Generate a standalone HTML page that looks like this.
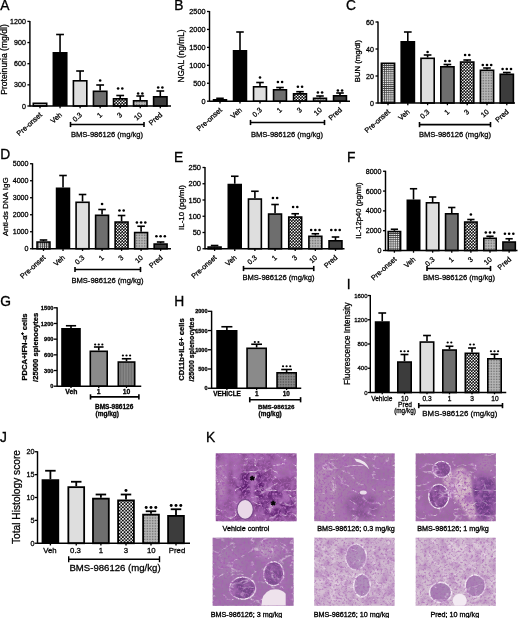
<!DOCTYPE html>
<html><head><meta charset="utf-8"><style>
html,body{margin:0;padding:0;background:#fff;width:520px;height:618px;overflow:hidden}
svg{display:block}
text{font-family:"Liberation Sans", sans-serif;stroke:#000;stroke-width:0.28px}
svg{filter:blur(0.25px)}
</style></head><body>
<svg width="520" height="618" viewBox="0 0 520 618">
<defs>
<pattern id="pdots" width="3" height="3" patternUnits="userSpaceOnUse">
  <rect width="3" height="3" fill="#c4c4c4"/><rect x="0.5" y="0.5" width="1.4" height="1.4" fill="#555"/>
</pattern>
<pattern id="pgrid" width="2.1" height="2.1" patternUnits="userSpaceOnUse">
  <rect width="2.1" height="2.1" fill="#3a3a3a"/><rect x="0.75" y="0.75" width="1.35" height="1.35" fill="#f2f2f2"/>
</pattern>
<pattern id="pcheck" width="3.0" height="3.0" patternUnits="userSpaceOnUse">
  <rect width="3.0" height="3.0" fill="#111"/><circle cx="0.75" cy="0.75" r="0.8" fill="#fff"/><circle cx="2.25" cy="2.25" r="0.8" fill="#fff"/>
</pattern>
<pattern id="pcheckJ" width="3.3" height="3.3" patternUnits="userSpaceOnUse">
  <rect width="3.3" height="3.3" fill="#111"/><circle cx="0.82" cy="0.82" r="0.9" fill="#fff"/><circle cx="2.47" cy="2.47" r="0.9" fill="#fff"/>
</pattern>
<pattern id="pfine" width="1.6" height="1.6" patternUnits="userSpaceOnUse">
  <rect width="1.6" height="1.6" fill="#b8b8b8"/><rect width="0.8" height="0.8" fill="#6a6a6a"/>
</pattern>
<pattern id="pfine2" width="1.6" height="1.6" patternUnits="userSpaceOnUse">
  <rect width="1.6" height="1.6" fill="#8a8a8a"/><rect width="0.8" height="0.8" fill="#4a4a4a"/>
</pattern>
<pattern id="pvline" width="1.6" height="3" patternUnits="userSpaceOnUse">
  <rect width="1.6" height="3" fill="#8a8a8a"/><rect width="0.6" height="3" fill="#666"/>
</pattern>
<filter id="hblur" x="-20%" y="-20%" width="140%" height="140%"><feGaussianBlur stdDeviation="2.5"/></filter>
<filter id="hblur3" x="-20%" y="-20%" width="140%" height="140%"><feGaussianBlur stdDeviation="1.2"/></filter>
<filter id="hblur2" x="-20%" y="-20%" width="140%" height="140%"><feGaussianBlur stdDeviation="0.6"/></filter>
<filter id="texm1" x="0" y="0" width="1" height="1"><feTurbulence type="fractalNoise" baseFrequency="0.12" numOctaves="2" seed="6"/>
<feColorMatrix type="matrix" values="0 0 0 0 0.40  0 0 0 0 0.16  0 0 0 0 0.46  2.97 0 0 0 -1.16"/></filter>
<filter id="texv1" x="0" y="0" width="1" height="1"><feTurbulence type="turbulence" baseFrequency="0.05 0.08" numOctaves="3" seed="16"/>
<feColorMatrix type="matrix" values="0 0 0 0 0.94  0 0 0 0 0.82  0 0 0 0 0.93  -4.80 0 0 0 0.78"/><feGaussianBlur stdDeviation="0.6"/></filter>
<filter id="texd1" x="0" y="0" width="1" height="1"><feTurbulence type="fractalNoise" baseFrequency="0.45" numOctaves="2" seed="7"/>
<feColorMatrix type="matrix" values="0 0 0 0 0.38  0 0 0 0 0.12  0 0 0 0 0.44  4.86 0 0 0 -2.36"/><feGaussianBlur stdDeviation="0.4"/></filter>
<filter id="texm2" x="0" y="0" width="1" height="1"><feTurbulence type="fractalNoise" baseFrequency="0.12" numOctaves="2" seed="11"/>
<feColorMatrix type="matrix" values="0 0 0 0 0.40  0 0 0 0 0.16  0 0 0 0 0.46  2.09 0 0 0 -0.82"/></filter>
<filter id="texv2" x="0" y="0" width="1" height="1"><feTurbulence type="turbulence" baseFrequency="0.05 0.08" numOctaves="3" seed="29"/>
<feColorMatrix type="matrix" values="0 0 0 0 0.94  0 0 0 0 0.82  0 0 0 0 0.93  -3.80 0 0 0 0.62"/><feGaussianBlur stdDeviation="0.6"/></filter>
<filter id="texd2" x="0" y="0" width="1" height="1"><feTurbulence type="fractalNoise" baseFrequency="0.45" numOctaves="2" seed="14"/>
<feColorMatrix type="matrix" values="0 0 0 0 0.38  0 0 0 0 0.12  0 0 0 0 0.44  3.42 0 0 0 -1.66"/><feGaussianBlur stdDeviation="0.4"/></filter>
<filter id="texm3" x="0" y="0" width="1" height="1"><feTurbulence type="fractalNoise" baseFrequency="0.12" numOctaves="2" seed="16"/>
<feColorMatrix type="matrix" values="0 0 0 0 0.40  0 0 0 0 0.16  0 0 0 0 0.46  2.09 0 0 0 -0.82"/></filter>
<filter id="texv3" x="0" y="0" width="1" height="1"><feTurbulence type="turbulence" baseFrequency="0.05 0.08" numOctaves="3" seed="42"/>
<feColorMatrix type="matrix" values="0 0 0 0 0.94  0 0 0 0 0.82  0 0 0 0 0.93  -3.80 0 0 0 0.62"/><feGaussianBlur stdDeviation="0.6"/></filter>
<filter id="texd3" x="0" y="0" width="1" height="1"><feTurbulence type="fractalNoise" baseFrequency="0.45" numOctaves="2" seed="21"/>
<feColorMatrix type="matrix" values="0 0 0 0 0.38  0 0 0 0 0.12  0 0 0 0 0.44  3.42 0 0 0 -1.66"/><feGaussianBlur stdDeviation="0.4"/></filter>
<filter id="texm4" x="0" y="0" width="1" height="1"><feTurbulence type="fractalNoise" baseFrequency="0.12" numOctaves="2" seed="21"/>
<feColorMatrix type="matrix" values="0 0 0 0 0.40  0 0 0 0 0.16  0 0 0 0 0.46  2.09 0 0 0 -0.82"/></filter>
<filter id="texv4" x="0" y="0" width="1" height="1"><feTurbulence type="turbulence" baseFrequency="0.05 0.08" numOctaves="3" seed="55"/>
<feColorMatrix type="matrix" values="0 0 0 0 0.94  0 0 0 0 0.82  0 0 0 0 0.93  -3.80 0 0 0 0.62"/><feGaussianBlur stdDeviation="0.6"/></filter>
<filter id="texd4" x="0" y="0" width="1" height="1"><feTurbulence type="fractalNoise" baseFrequency="0.45" numOctaves="2" seed="28"/>
<feColorMatrix type="matrix" values="0 0 0 0 0.38  0 0 0 0 0.12  0 0 0 0 0.44  3.42 0 0 0 -1.66"/><feGaussianBlur stdDeviation="0.4"/></filter>
<filter id="texm5" x="0" y="0" width="1" height="1"><feTurbulence type="fractalNoise" baseFrequency="0.12" numOctaves="2" seed="26"/>
<feColorMatrix type="matrix" values="0 0 0 0 0.40  0 0 0 0 0.16  0 0 0 0 0.46  1.32 0 0 0 -0.52"/></filter>
<filter id="texv5" x="0" y="0" width="1" height="1"><feTurbulence type="turbulence" baseFrequency="0.05 0.08" numOctaves="3" seed="68"/>
<feColorMatrix type="matrix" values="0 0 0 0 0.94  0 0 0 0 0.82  0 0 0 0 0.93  -3.20 0 0 0 0.52"/><feGaussianBlur stdDeviation="0.6"/></filter>
<filter id="texd5" x="0" y="0" width="1" height="1"><feTurbulence type="fractalNoise" baseFrequency="0.45" numOctaves="2" seed="35"/>
<feColorMatrix type="matrix" values="0 0 0 0 0.38  0 0 0 0 0.12  0 0 0 0 0.44  2.16 0 0 0 -1.05"/><feGaussianBlur stdDeviation="0.4"/></filter>
<filter id="texm6" x="0" y="0" width="1" height="1"><feTurbulence type="fractalNoise" baseFrequency="0.12" numOctaves="2" seed="31"/>
<feColorMatrix type="matrix" values="0 0 0 0 0.40  0 0 0 0 0.16  0 0 0 0 0.46  1.32 0 0 0 -0.52"/></filter>
<filter id="texv6" x="0" y="0" width="1" height="1"><feTurbulence type="turbulence" baseFrequency="0.05 0.08" numOctaves="3" seed="81"/>
<feColorMatrix type="matrix" values="0 0 0 0 0.94  0 0 0 0 0.82  0 0 0 0 0.93  -3.20 0 0 0 0.52"/><feGaussianBlur stdDeviation="0.6"/></filter>
<filter id="texd6" x="0" y="0" width="1" height="1"><feTurbulence type="fractalNoise" baseFrequency="0.45" numOctaves="2" seed="42"/>
<feColorMatrix type="matrix" values="0 0 0 0 0.38  0 0 0 0 0.12  0 0 0 0 0.44  2.16 0 0 0 -1.05"/><feGaussianBlur stdDeviation="0.4"/></filter>
</defs>
<rect width="520" height="618" fill="#fff"/>
<line x1="29.90" y1="20.90" x2="29.90" y2="106.60" stroke="#000" stroke-width="1.45"/>
<line x1="27.40" y1="106.00" x2="29.90" y2="106.00" stroke="#000" stroke-width="1.305"/>
<text x="25.90" y="108.56" font-size="7.1" text-anchor="end" fill="#000">0</text>
<line x1="27.40" y1="84.85" x2="29.90" y2="84.85" stroke="#000" stroke-width="1.305"/>
<text x="25.90" y="87.41" font-size="7.1" text-anchor="end" fill="#000">300</text>
<line x1="27.40" y1="63.70" x2="29.90" y2="63.70" stroke="#000" stroke-width="1.305"/>
<text x="25.90" y="66.26" font-size="7.1" text-anchor="end" fill="#000">600</text>
<line x1="27.40" y1="42.55" x2="29.90" y2="42.55" stroke="#000" stroke-width="1.305"/>
<text x="25.90" y="45.11" font-size="7.1" text-anchor="end" fill="#000">900</text>
<line x1="27.40" y1="21.40" x2="29.90" y2="21.40" stroke="#000" stroke-width="1.305"/>
<text x="25.90" y="23.96" font-size="7.1" text-anchor="end" fill="#000">1200</text>
<rect x="33.30" y="103.30" width="13.40" height="2.70" fill="url(#pdots)" stroke="#000" stroke-width="1.6"/>
<line x1="60.05" y1="52.00" x2="60.05" y2="34.50" stroke="#000" stroke-width="1.6"/>
<line x1="56.15" y1="34.50" x2="63.95" y2="34.50" stroke="#000" stroke-width="1.6"/>
<rect x="52.55" y="52.00" width="15.00" height="54.00" fill="#000"/>
<line x1="80.10" y1="80.00" x2="80.10" y2="71.00" stroke="#000" stroke-width="1.6"/>
<line x1="76.20" y1="71.00" x2="84.00" y2="71.00" stroke="#000" stroke-width="1.6"/>
<rect x="73.40" y="80.80" width="13.40" height="25.20" fill="#dedede" stroke="#000" stroke-width="1.6"/>
<line x1="100.15" y1="90.50" x2="100.15" y2="85.00" stroke="#000" stroke-width="1.6"/>
<line x1="96.25" y1="85.00" x2="104.05" y2="85.00" stroke="#000" stroke-width="1.6"/>
<rect x="93.45" y="91.30" width="13.40" height="14.70" fill="#6e6e6e" stroke="#000" stroke-width="1.6"/>
<circle cx="100.15" cy="80.50" r="1.30" fill="#000"/>
<line x1="120.20" y1="98.00" x2="120.20" y2="95.50" stroke="#000" stroke-width="1.6"/>
<line x1="116.30" y1="95.50" x2="124.10" y2="95.50" stroke="#000" stroke-width="1.6"/>
<rect x="113.50" y="98.80" width="13.40" height="7.20" fill="url(#pcheck)" stroke="#000" stroke-width="1.6"/>
<circle cx="118.10" cy="88.50" r="1.30" fill="#000"/>
<circle cx="122.30" cy="88.50" r="1.30" fill="#000"/>
<line x1="140.25" y1="100.00" x2="140.25" y2="96.00" stroke="#000" stroke-width="1.6"/>
<line x1="136.35" y1="96.00" x2="144.15" y2="96.00" stroke="#000" stroke-width="1.6"/>
<rect x="133.55" y="100.80" width="13.40" height="5.20" fill="url(#pfine)" stroke="#000" stroke-width="1.6"/>
<circle cx="138.15" cy="93.50" r="1.30" fill="#000"/>
<circle cx="142.35" cy="93.50" r="1.30" fill="#000"/>
<line x1="160.30" y1="96.00" x2="160.30" y2="91.00" stroke="#000" stroke-width="1.6"/>
<line x1="156.40" y1="91.00" x2="164.20" y2="91.00" stroke="#000" stroke-width="1.6"/>
<rect x="153.60" y="96.80" width="13.40" height="9.20" fill="#3c3c3c" stroke="#000" stroke-width="1.6"/>
<circle cx="158.20" cy="87.50" r="1.30" fill="#000"/>
<circle cx="162.40" cy="87.50" r="1.30" fill="#000"/>
<line x1="29.90" y1="106.00" x2="171.00" y2="106.00" stroke="#000" stroke-width="1.45"/>
<line x1="40.00" y1="106.00" x2="40.00" y2="108.20" stroke="#000" stroke-width="1.305"/>
<line x1="60.05" y1="106.00" x2="60.05" y2="108.20" stroke="#000" stroke-width="1.305"/>
<line x1="80.10" y1="106.00" x2="80.10" y2="108.20" stroke="#000" stroke-width="1.305"/>
<line x1="100.15" y1="106.00" x2="100.15" y2="108.20" stroke="#000" stroke-width="1.305"/>
<line x1="120.20" y1="106.00" x2="120.20" y2="108.20" stroke="#000" stroke-width="1.305"/>
<line x1="140.25" y1="106.00" x2="140.25" y2="108.20" stroke="#000" stroke-width="1.305"/>
<line x1="160.30" y1="106.00" x2="160.30" y2="108.20" stroke="#000" stroke-width="1.305"/>
<text x="42.50" y="115.50" font-size="7.2" text-anchor="end" transform="rotate(-42 42.50 115.50)" fill="#000">Pre-onset</text>
<text x="62.55" y="115.50" font-size="7.2" text-anchor="end" transform="rotate(-42 62.55 115.50)" fill="#000">Veh</text>
<text x="82.60" y="115.50" font-size="7.2" text-anchor="end" transform="rotate(-42 82.60 115.50)" fill="#000">0.3</text>
<text x="102.65" y="115.50" font-size="7.2" text-anchor="end" transform="rotate(-42 102.65 115.50)" fill="#000">1</text>
<text x="122.70" y="115.50" font-size="7.2" text-anchor="end" transform="rotate(-42 122.70 115.50)" fill="#000">3</text>
<text x="142.75" y="115.50" font-size="7.2" text-anchor="end" transform="rotate(-42 142.75 115.50)" fill="#000">10</text>
<text x="162.80" y="115.50" font-size="7.2" text-anchor="end" transform="rotate(-42 162.80 115.50)" fill="#000">Pred</text>
<line x1="70.50" y1="124.50" x2="144.00" y2="124.50" stroke="#000" stroke-width="1.6"/>
<line x1="70.50" y1="121.90" x2="70.50" y2="127.10" stroke="#000" stroke-width="1.6"/>
<line x1="144.00" y1="121.90" x2="144.00" y2="127.10" stroke="#000" stroke-width="1.6"/>
<text x="107.00" y="137.20" font-size="7.6" text-anchor="middle" fill="#000">BMS-986126 (mg/kg)</text>
<text x="6.50" y="59.50" font-size="8.6" text-anchor="middle" transform="rotate(-90 6.50 59.50)" fill="#000">Proteinuria (mg/dl)</text>
<line x1="209.50" y1="11.00" x2="209.50" y2="101.80" stroke="#000" stroke-width="1.45"/>
<line x1="207.00" y1="101.20" x2="209.50" y2="101.20" stroke="#000" stroke-width="1.305"/>
<text x="205.50" y="103.83" font-size="7.3" text-anchor="end" fill="#000">0</text>
<line x1="207.00" y1="83.26" x2="209.50" y2="83.26" stroke="#000" stroke-width="1.305"/>
<text x="205.50" y="85.89" font-size="7.3" text-anchor="end" fill="#000">500</text>
<line x1="207.00" y1="65.32" x2="209.50" y2="65.32" stroke="#000" stroke-width="1.305"/>
<text x="205.50" y="67.95" font-size="7.3" text-anchor="end" fill="#000">1000</text>
<line x1="207.00" y1="47.38" x2="209.50" y2="47.38" stroke="#000" stroke-width="1.305"/>
<text x="205.50" y="50.01" font-size="7.3" text-anchor="end" fill="#000">1500</text>
<line x1="207.00" y1="29.44" x2="209.50" y2="29.44" stroke="#000" stroke-width="1.305"/>
<text x="205.50" y="32.07" font-size="7.3" text-anchor="end" fill="#000">2000</text>
<line x1="207.00" y1="11.50" x2="209.50" y2="11.50" stroke="#000" stroke-width="1.305"/>
<text x="205.50" y="14.13" font-size="7.3" text-anchor="end" fill="#000">2500</text>
<line x1="220.00" y1="99.00" x2="220.00" y2="98.30" stroke="#000" stroke-width="1.6"/>
<line x1="216.23" y1="98.30" x2="223.77" y2="98.30" stroke="#000" stroke-width="1.6"/>
<rect x="213.55" y="99.80" width="12.90" height="1.40" fill="url(#pdots)" stroke="#000" stroke-width="1.6"/>
<line x1="240.00" y1="50.00" x2="240.00" y2="32.00" stroke="#000" stroke-width="1.6"/>
<line x1="236.23" y1="32.00" x2="243.77" y2="32.00" stroke="#000" stroke-width="1.6"/>
<rect x="232.75" y="50.00" width="14.50" height="51.20" fill="#000"/>
<line x1="260.00" y1="86.00" x2="260.00" y2="82.50" stroke="#000" stroke-width="1.6"/>
<line x1="256.23" y1="82.50" x2="263.77" y2="82.50" stroke="#000" stroke-width="1.6"/>
<rect x="253.55" y="86.80" width="12.90" height="14.40" fill="#dedede" stroke="#000" stroke-width="1.6"/>
<circle cx="260.00" cy="77.50" r="1.30" fill="#000"/>
<line x1="280.00" y1="89.00" x2="280.00" y2="87.50" stroke="#000" stroke-width="1.6"/>
<line x1="276.23" y1="87.50" x2="283.77" y2="87.50" stroke="#000" stroke-width="1.6"/>
<rect x="273.55" y="89.80" width="12.90" height="11.40" fill="#6e6e6e" stroke="#000" stroke-width="1.6"/>
<circle cx="277.90" cy="82.00" r="1.30" fill="#000"/>
<circle cx="282.10" cy="82.00" r="1.30" fill="#000"/>
<line x1="300.00" y1="93.00" x2="300.00" y2="91.70" stroke="#000" stroke-width="1.6"/>
<line x1="296.23" y1="91.70" x2="303.77" y2="91.70" stroke="#000" stroke-width="1.6"/>
<rect x="293.55" y="93.80" width="12.90" height="7.40" fill="url(#pcheck)" stroke="#000" stroke-width="1.6"/>
<circle cx="297.90" cy="86.70" r="1.30" fill="#000"/>
<circle cx="302.10" cy="86.70" r="1.30" fill="#000"/>
<line x1="320.00" y1="97.50" x2="320.00" y2="96.00" stroke="#000" stroke-width="1.6"/>
<line x1="316.23" y1="96.00" x2="323.77" y2="96.00" stroke="#000" stroke-width="1.6"/>
<rect x="313.55" y="98.30" width="12.90" height="2.90" fill="url(#pfine)" stroke="#000" stroke-width="1.6"/>
<circle cx="317.90" cy="92.50" r="1.30" fill="#000"/>
<circle cx="322.10" cy="92.50" r="1.30" fill="#000"/>
<line x1="340.00" y1="95.00" x2="340.00" y2="93.00" stroke="#000" stroke-width="1.6"/>
<line x1="336.23" y1="93.00" x2="343.77" y2="93.00" stroke="#000" stroke-width="1.6"/>
<rect x="333.55" y="95.80" width="12.90" height="5.40" fill="#3c3c3c" stroke="#000" stroke-width="1.6"/>
<circle cx="337.90" cy="90.50" r="1.30" fill="#000"/>
<circle cx="342.10" cy="90.50" r="1.30" fill="#000"/>
<line x1="209.50" y1="101.20" x2="350.00" y2="101.20" stroke="#000" stroke-width="1.45"/>
<line x1="220.00" y1="101.20" x2="220.00" y2="103.40" stroke="#000" stroke-width="1.305"/>
<line x1="240.00" y1="101.20" x2="240.00" y2="103.40" stroke="#000" stroke-width="1.305"/>
<line x1="260.00" y1="101.20" x2="260.00" y2="103.40" stroke="#000" stroke-width="1.305"/>
<line x1="280.00" y1="101.20" x2="280.00" y2="103.40" stroke="#000" stroke-width="1.305"/>
<line x1="300.00" y1="101.20" x2="300.00" y2="103.40" stroke="#000" stroke-width="1.305"/>
<line x1="320.00" y1="101.20" x2="320.00" y2="103.40" stroke="#000" stroke-width="1.305"/>
<line x1="340.00" y1="101.20" x2="340.00" y2="103.40" stroke="#000" stroke-width="1.305"/>
<text x="222.50" y="110.70" font-size="7.2" text-anchor="end" transform="rotate(-42 222.50 110.70)" fill="#000">Pre-onset</text>
<text x="242.50" y="110.70" font-size="7.2" text-anchor="end" transform="rotate(-42 242.50 110.70)" fill="#000">Veh</text>
<text x="262.50" y="110.70" font-size="7.2" text-anchor="end" transform="rotate(-42 262.50 110.70)" fill="#000">0.3</text>
<text x="282.50" y="110.70" font-size="7.2" text-anchor="end" transform="rotate(-42 282.50 110.70)" fill="#000">1</text>
<text x="302.50" y="110.70" font-size="7.2" text-anchor="end" transform="rotate(-42 302.50 110.70)" fill="#000">3</text>
<text x="322.50" y="110.70" font-size="7.2" text-anchor="end" transform="rotate(-42 322.50 110.70)" fill="#000">10</text>
<text x="342.50" y="110.70" font-size="7.2" text-anchor="end" transform="rotate(-42 342.50 110.70)" fill="#000">Pred</text>
<line x1="250.50" y1="122.50" x2="324.50" y2="122.50" stroke="#000" stroke-width="1.6"/>
<line x1="250.50" y1="119.90" x2="250.50" y2="125.10" stroke="#000" stroke-width="1.6"/>
<line x1="324.50" y1="119.90" x2="324.50" y2="125.10" stroke="#000" stroke-width="1.6"/>
<text x="287.00" y="137.00" font-size="7.6" text-anchor="middle" fill="#000">BMS-986126 (mg/kg)</text>
<text x="184.00" y="56.00" font-size="8.3" text-anchor="middle" transform="rotate(-90 184.00 56.00)" fill="#000">NGAL (ng/mL)</text>
<line x1="378.00" y1="21.50" x2="378.00" y2="103.60" stroke="#000" stroke-width="1.45"/>
<line x1="375.50" y1="103.00" x2="378.00" y2="103.00" stroke="#000" stroke-width="1.305"/>
<text x="374.00" y="105.56" font-size="7.1" text-anchor="end" fill="#000">0</text>
<line x1="375.50" y1="76.00" x2="378.00" y2="76.00" stroke="#000" stroke-width="1.305"/>
<text x="374.00" y="78.56" font-size="7.1" text-anchor="end" fill="#000">20</text>
<line x1="375.50" y1="49.00" x2="378.00" y2="49.00" stroke="#000" stroke-width="1.305"/>
<text x="374.00" y="51.56" font-size="7.1" text-anchor="end" fill="#000">40</text>
<line x1="375.50" y1="22.00" x2="378.00" y2="22.00" stroke="#000" stroke-width="1.305"/>
<text x="374.00" y="24.56" font-size="7.1" text-anchor="end" fill="#000">60</text>
<rect x="381.40" y="63.30" width="13.20" height="39.70" fill="url(#pgrid)" stroke="#000" stroke-width="1.6"/>
<line x1="407.80" y1="41.00" x2="407.80" y2="32.00" stroke="#000" stroke-width="1.6"/>
<line x1="403.95" y1="32.00" x2="411.65" y2="32.00" stroke="#000" stroke-width="1.6"/>
<rect x="400.40" y="41.00" width="14.80" height="62.00" fill="#000"/>
<line x1="427.60" y1="57.50" x2="427.60" y2="55.00" stroke="#000" stroke-width="1.6"/>
<line x1="423.75" y1="55.00" x2="431.45" y2="55.00" stroke="#000" stroke-width="1.6"/>
<rect x="421.00" y="58.30" width="13.20" height="44.70" fill="#dedede" stroke="#000" stroke-width="1.6"/>
<circle cx="427.60" cy="52.00" r="1.30" fill="#000"/>
<line x1="447.40" y1="66.00" x2="447.40" y2="64.50" stroke="#000" stroke-width="1.6"/>
<line x1="443.55" y1="64.50" x2="451.25" y2="64.50" stroke="#000" stroke-width="1.6"/>
<rect x="440.80" y="66.80" width="13.20" height="36.20" fill="#6e6e6e" stroke="#000" stroke-width="1.6"/>
<circle cx="445.30" cy="61.00" r="1.30" fill="#000"/>
<circle cx="449.50" cy="61.00" r="1.30" fill="#000"/>
<line x1="467.20" y1="61.25" x2="467.20" y2="60.00" stroke="#000" stroke-width="1.6"/>
<line x1="463.35" y1="60.00" x2="471.05" y2="60.00" stroke="#000" stroke-width="1.6"/>
<rect x="460.60" y="62.05" width="13.20" height="40.95" fill="url(#pcheck)" stroke="#000" stroke-width="1.6"/>
<circle cx="465.10" cy="55.00" r="1.30" fill="#000"/>
<circle cx="469.30" cy="55.00" r="1.30" fill="#000"/>
<line x1="487.00" y1="69.50" x2="487.00" y2="68.00" stroke="#000" stroke-width="1.6"/>
<line x1="483.15" y1="68.00" x2="490.85" y2="68.00" stroke="#000" stroke-width="1.6"/>
<rect x="480.40" y="70.30" width="13.20" height="32.70" fill="url(#pfine)" stroke="#000" stroke-width="1.6"/>
<circle cx="482.80" cy="65.00" r="1.30" fill="#000"/>
<circle cx="487.00" cy="65.00" r="1.30" fill="#000"/>
<circle cx="491.20" cy="65.00" r="1.30" fill="#000"/>
<line x1="506.80" y1="73.50" x2="506.80" y2="72.50" stroke="#000" stroke-width="1.6"/>
<line x1="502.95" y1="72.50" x2="510.65" y2="72.50" stroke="#000" stroke-width="1.6"/>
<rect x="500.20" y="74.30" width="13.20" height="28.70" fill="#3c3c3c" stroke="#000" stroke-width="1.6"/>
<circle cx="502.60" cy="69.00" r="1.30" fill="#000"/>
<circle cx="506.80" cy="69.00" r="1.30" fill="#000"/>
<circle cx="511.00" cy="69.00" r="1.30" fill="#000"/>
<line x1="378.00" y1="103.00" x2="515.00" y2="103.00" stroke="#000" stroke-width="1.45"/>
<line x1="388.00" y1="103.00" x2="388.00" y2="105.20" stroke="#000" stroke-width="1.305"/>
<line x1="407.80" y1="103.00" x2="407.80" y2="105.20" stroke="#000" stroke-width="1.305"/>
<line x1="427.60" y1="103.00" x2="427.60" y2="105.20" stroke="#000" stroke-width="1.305"/>
<line x1="447.40" y1="103.00" x2="447.40" y2="105.20" stroke="#000" stroke-width="1.305"/>
<line x1="467.20" y1="103.00" x2="467.20" y2="105.20" stroke="#000" stroke-width="1.305"/>
<line x1="487.00" y1="103.00" x2="487.00" y2="105.20" stroke="#000" stroke-width="1.305"/>
<line x1="506.80" y1="103.00" x2="506.80" y2="105.20" stroke="#000" stroke-width="1.305"/>
<text x="390.50" y="112.50" font-size="7.2" text-anchor="end" transform="rotate(-42 390.50 112.50)" fill="#000">Pre-onset</text>
<text x="410.30" y="112.50" font-size="7.2" text-anchor="end" transform="rotate(-42 410.30 112.50)" fill="#000">Veh</text>
<text x="430.10" y="112.50" font-size="7.2" text-anchor="end" transform="rotate(-42 430.10 112.50)" fill="#000">0.3</text>
<text x="449.90" y="112.50" font-size="7.2" text-anchor="end" transform="rotate(-42 449.90 112.50)" fill="#000">1</text>
<text x="469.70" y="112.50" font-size="7.2" text-anchor="end" transform="rotate(-42 469.70 112.50)" fill="#000">3</text>
<text x="489.50" y="112.50" font-size="7.2" text-anchor="end" transform="rotate(-42 489.50 112.50)" fill="#000">10</text>
<text x="509.30" y="112.50" font-size="7.2" text-anchor="end" transform="rotate(-42 509.30 112.50)" fill="#000">Pred</text>
<line x1="419.50" y1="124.60" x2="490.50" y2="124.60" stroke="#000" stroke-width="1.6"/>
<line x1="419.50" y1="122.00" x2="419.50" y2="127.20" stroke="#000" stroke-width="1.6"/>
<line x1="490.50" y1="122.00" x2="490.50" y2="127.20" stroke="#000" stroke-width="1.6"/>
<text x="455.00" y="137.00" font-size="7.6" text-anchor="middle" fill="#000">BMS-986126 (mg/kg)</text>
<text x="360.20" y="61.00" font-size="7.7" text-anchor="middle" transform="rotate(-90 360.20 61.00)" fill="#000">BUN (mg/dl)</text>
<line x1="32.50" y1="163.25" x2="32.50" y2="249.35" stroke="#000" stroke-width="1.45"/>
<line x1="30.00" y1="248.75" x2="32.50" y2="248.75" stroke="#000" stroke-width="1.305"/>
<text x="28.50" y="251.31" font-size="7.1" text-anchor="end" fill="#000">0</text>
<line x1="30.00" y1="231.75" x2="32.50" y2="231.75" stroke="#000" stroke-width="1.305"/>
<text x="28.50" y="234.31" font-size="7.1" text-anchor="end" fill="#000">1000</text>
<line x1="30.00" y1="214.75" x2="32.50" y2="214.75" stroke="#000" stroke-width="1.305"/>
<text x="28.50" y="217.31" font-size="7.1" text-anchor="end" fill="#000">2000</text>
<line x1="30.00" y1="197.75" x2="32.50" y2="197.75" stroke="#000" stroke-width="1.305"/>
<text x="28.50" y="200.31" font-size="7.1" text-anchor="end" fill="#000">3000</text>
<line x1="30.00" y1="180.75" x2="32.50" y2="180.75" stroke="#000" stroke-width="1.305"/>
<text x="28.50" y="183.31" font-size="7.1" text-anchor="end" fill="#000">4000</text>
<line x1="30.00" y1="163.75" x2="32.50" y2="163.75" stroke="#000" stroke-width="1.305"/>
<text x="28.50" y="166.31" font-size="7.1" text-anchor="end" fill="#000">5000</text>
<line x1="43.50" y1="241.25" x2="43.50" y2="240.00" stroke="#000" stroke-width="1.6"/>
<line x1="39.73" y1="240.00" x2="47.27" y2="240.00" stroke="#000" stroke-width="1.6"/>
<rect x="37.05" y="242.05" width="12.90" height="6.70" fill="url(#pgrid)" stroke="#000" stroke-width="1.6"/>
<line x1="63.02" y1="187.50" x2="63.02" y2="175.50" stroke="#000" stroke-width="1.6"/>
<line x1="59.25" y1="175.50" x2="66.79" y2="175.50" stroke="#000" stroke-width="1.6"/>
<rect x="55.77" y="187.50" width="14.50" height="61.25" fill="#000"/>
<line x1="82.54" y1="201.50" x2="82.54" y2="194.50" stroke="#000" stroke-width="1.6"/>
<line x1="78.77" y1="194.50" x2="86.31" y2="194.50" stroke="#000" stroke-width="1.6"/>
<rect x="76.09" y="202.30" width="12.90" height="46.45" fill="#dedede" stroke="#000" stroke-width="1.6"/>
<line x1="102.06" y1="214.50" x2="102.06" y2="209.50" stroke="#000" stroke-width="1.6"/>
<line x1="98.29" y1="209.50" x2="105.83" y2="209.50" stroke="#000" stroke-width="1.6"/>
<rect x="95.61" y="215.30" width="12.90" height="33.45" fill="#6e6e6e" stroke="#000" stroke-width="1.6"/>
<circle cx="102.06" cy="204.00" r="1.30" fill="#000"/>
<line x1="121.58" y1="221.25" x2="121.58" y2="215.50" stroke="#000" stroke-width="1.6"/>
<line x1="117.81" y1="215.50" x2="125.35" y2="215.50" stroke="#000" stroke-width="1.6"/>
<rect x="115.13" y="222.05" width="12.90" height="26.70" fill="url(#pcheck)" stroke="#000" stroke-width="1.6"/>
<circle cx="119.48" cy="210.50" r="1.30" fill="#000"/>
<circle cx="123.68" cy="210.50" r="1.30" fill="#000"/>
<line x1="141.10" y1="231.75" x2="141.10" y2="226.25" stroke="#000" stroke-width="1.6"/>
<line x1="137.33" y1="226.25" x2="144.87" y2="226.25" stroke="#000" stroke-width="1.6"/>
<rect x="134.65" y="232.55" width="12.90" height="16.20" fill="url(#pfine)" stroke="#000" stroke-width="1.6"/>
<circle cx="136.90" cy="222.50" r="1.30" fill="#000"/>
<circle cx="141.10" cy="222.50" r="1.30" fill="#000"/>
<circle cx="145.30" cy="222.50" r="1.30" fill="#000"/>
<line x1="160.62" y1="243.25" x2="160.62" y2="242.00" stroke="#000" stroke-width="1.6"/>
<line x1="156.85" y1="242.00" x2="164.39" y2="242.00" stroke="#000" stroke-width="1.6"/>
<rect x="154.17" y="244.05" width="12.90" height="4.70" fill="#3c3c3c" stroke="#000" stroke-width="1.6"/>
<circle cx="156.42" cy="236.25" r="1.30" fill="#000"/>
<circle cx="160.62" cy="236.25" r="1.30" fill="#000"/>
<circle cx="164.82" cy="236.25" r="1.30" fill="#000"/>
<line x1="32.50" y1="248.75" x2="171.00" y2="248.75" stroke="#000" stroke-width="1.45"/>
<line x1="43.50" y1="248.75" x2="43.50" y2="250.95" stroke="#000" stroke-width="1.305"/>
<line x1="63.02" y1="248.75" x2="63.02" y2="250.95" stroke="#000" stroke-width="1.305"/>
<line x1="82.54" y1="248.75" x2="82.54" y2="250.95" stroke="#000" stroke-width="1.305"/>
<line x1="102.06" y1="248.75" x2="102.06" y2="250.95" stroke="#000" stroke-width="1.305"/>
<line x1="121.58" y1="248.75" x2="121.58" y2="250.95" stroke="#000" stroke-width="1.305"/>
<line x1="141.10" y1="248.75" x2="141.10" y2="250.95" stroke="#000" stroke-width="1.305"/>
<line x1="160.62" y1="248.75" x2="160.62" y2="250.95" stroke="#000" stroke-width="1.305"/>
<text x="46.00" y="258.25" font-size="7.2" text-anchor="end" transform="rotate(-42 46.00 258.25)" fill="#000">Pre-onset</text>
<text x="65.52" y="258.25" font-size="7.2" text-anchor="end" transform="rotate(-42 65.52 258.25)" fill="#000">Veh</text>
<text x="85.04" y="258.25" font-size="7.2" text-anchor="end" transform="rotate(-42 85.04 258.25)" fill="#000">0.3</text>
<text x="104.56" y="258.25" font-size="7.2" text-anchor="end" transform="rotate(-42 104.56 258.25)" fill="#000">1</text>
<text x="124.08" y="258.25" font-size="7.2" text-anchor="end" transform="rotate(-42 124.08 258.25)" fill="#000">3</text>
<text x="143.60" y="258.25" font-size="7.2" text-anchor="end" transform="rotate(-42 143.60 258.25)" fill="#000">10</text>
<text x="163.12" y="258.25" font-size="7.2" text-anchor="end" transform="rotate(-42 163.12 258.25)" fill="#000">Pred</text>
<line x1="75.00" y1="269.50" x2="140.50" y2="269.50" stroke="#000" stroke-width="1.6"/>
<line x1="75.00" y1="266.90" x2="75.00" y2="272.10" stroke="#000" stroke-width="1.6"/>
<line x1="140.50" y1="266.90" x2="140.50" y2="272.10" stroke="#000" stroke-width="1.6"/>
<text x="107.50" y="282.50" font-size="7.6" text-anchor="middle" fill="#000">BMS-986126 (mg/kg)</text>
<text x="7.60" y="206.75" font-size="8.0" text-anchor="middle" transform="rotate(-90 7.60 206.75)" fill="#000">Anti-ds DNA IgG</text>
<line x1="205.00" y1="167.00" x2="205.00" y2="249.35" stroke="#000" stroke-width="1.45"/>
<line x1="202.50" y1="248.75" x2="205.00" y2="248.75" stroke="#000" stroke-width="1.305"/>
<text x="201.00" y="251.45" font-size="7.5" text-anchor="end" fill="#000">0</text>
<line x1="202.50" y1="232.50" x2="205.00" y2="232.50" stroke="#000" stroke-width="1.305"/>
<text x="201.00" y="235.20" font-size="7.5" text-anchor="end" fill="#000">50</text>
<line x1="202.50" y1="216.25" x2="205.00" y2="216.25" stroke="#000" stroke-width="1.305"/>
<text x="201.00" y="218.95" font-size="7.5" text-anchor="end" fill="#000">100</text>
<line x1="202.50" y1="200.00" x2="205.00" y2="200.00" stroke="#000" stroke-width="1.305"/>
<text x="201.00" y="202.70" font-size="7.5" text-anchor="end" fill="#000">150</text>
<line x1="202.50" y1="183.75" x2="205.00" y2="183.75" stroke="#000" stroke-width="1.305"/>
<text x="201.00" y="186.45" font-size="7.5" text-anchor="end" fill="#000">200</text>
<line x1="202.50" y1="167.50" x2="205.00" y2="167.50" stroke="#000" stroke-width="1.305"/>
<text x="201.00" y="170.20" font-size="7.5" text-anchor="end" fill="#000">250</text>
<line x1="214.60" y1="246.25" x2="214.60" y2="245.50" stroke="#000" stroke-width="1.6"/>
<line x1="210.83" y1="245.50" x2="218.37" y2="245.50" stroke="#000" stroke-width="1.6"/>
<rect x="208.15" y="247.05" width="12.90" height="1.70" fill="url(#pdots)" stroke="#000" stroke-width="1.6"/>
<line x1="234.75" y1="183.75" x2="234.75" y2="176.25" stroke="#000" stroke-width="1.6"/>
<line x1="230.98" y1="176.25" x2="238.52" y2="176.25" stroke="#000" stroke-width="1.6"/>
<rect x="227.50" y="183.75" width="14.50" height="65.00" fill="#000"/>
<line x1="254.90" y1="198.25" x2="254.90" y2="191.25" stroke="#000" stroke-width="1.6"/>
<line x1="251.13" y1="191.25" x2="258.67" y2="191.25" stroke="#000" stroke-width="1.6"/>
<rect x="248.45" y="199.05" width="12.90" height="49.70" fill="#dedede" stroke="#000" stroke-width="1.6"/>
<line x1="275.05" y1="213.25" x2="275.05" y2="204.50" stroke="#000" stroke-width="1.6"/>
<line x1="271.28" y1="204.50" x2="278.82" y2="204.50" stroke="#000" stroke-width="1.6"/>
<rect x="268.60" y="214.05" width="12.90" height="34.70" fill="#6e6e6e" stroke="#000" stroke-width="1.6"/>
<circle cx="272.95" cy="198.00" r="1.30" fill="#000"/>
<circle cx="277.15" cy="198.00" r="1.30" fill="#000"/>
<line x1="295.20" y1="216.25" x2="295.20" y2="213.75" stroke="#000" stroke-width="1.6"/>
<line x1="291.43" y1="213.75" x2="298.97" y2="213.75" stroke="#000" stroke-width="1.6"/>
<rect x="288.75" y="217.05" width="12.90" height="31.70" fill="url(#pcheck)" stroke="#000" stroke-width="1.6"/>
<circle cx="293.10" cy="207.00" r="1.30" fill="#000"/>
<circle cx="297.30" cy="207.00" r="1.30" fill="#000"/>
<line x1="315.35" y1="235.50" x2="315.35" y2="233.75" stroke="#000" stroke-width="1.6"/>
<line x1="311.58" y1="233.75" x2="319.12" y2="233.75" stroke="#000" stroke-width="1.6"/>
<rect x="308.90" y="236.30" width="12.90" height="12.45" fill="url(#pfine)" stroke="#000" stroke-width="1.6"/>
<circle cx="311.15" cy="230.00" r="1.30" fill="#000"/>
<circle cx="315.35" cy="230.00" r="1.30" fill="#000"/>
<circle cx="319.55" cy="230.00" r="1.30" fill="#000"/>
<line x1="335.50" y1="240.00" x2="335.50" y2="237.00" stroke="#000" stroke-width="1.6"/>
<line x1="331.73" y1="237.00" x2="339.27" y2="237.00" stroke="#000" stroke-width="1.6"/>
<rect x="329.05" y="240.80" width="12.90" height="7.95" fill="#3c3c3c" stroke="#000" stroke-width="1.6"/>
<circle cx="331.30" cy="230.00" r="1.30" fill="#000"/>
<circle cx="335.50" cy="230.00" r="1.30" fill="#000"/>
<circle cx="339.70" cy="230.00" r="1.30" fill="#000"/>
<line x1="205.00" y1="248.75" x2="344.50" y2="248.75" stroke="#000" stroke-width="1.45"/>
<line x1="214.60" y1="248.75" x2="214.60" y2="250.95" stroke="#000" stroke-width="1.305"/>
<line x1="234.75" y1="248.75" x2="234.75" y2="250.95" stroke="#000" stroke-width="1.305"/>
<line x1="254.90" y1="248.75" x2="254.90" y2="250.95" stroke="#000" stroke-width="1.305"/>
<line x1="275.05" y1="248.75" x2="275.05" y2="250.95" stroke="#000" stroke-width="1.305"/>
<line x1="295.20" y1="248.75" x2="295.20" y2="250.95" stroke="#000" stroke-width="1.305"/>
<line x1="315.35" y1="248.75" x2="315.35" y2="250.95" stroke="#000" stroke-width="1.305"/>
<line x1="335.50" y1="248.75" x2="335.50" y2="250.95" stroke="#000" stroke-width="1.305"/>
<text x="217.10" y="258.25" font-size="7.2" text-anchor="end" transform="rotate(-42 217.10 258.25)" fill="#000">Pre-onset</text>
<text x="237.25" y="258.25" font-size="7.2" text-anchor="end" transform="rotate(-42 237.25 258.25)" fill="#000">Veh</text>
<text x="257.40" y="258.25" font-size="7.2" text-anchor="end" transform="rotate(-42 257.40 258.25)" fill="#000">0.3</text>
<text x="277.55" y="258.25" font-size="7.2" text-anchor="end" transform="rotate(-42 277.55 258.25)" fill="#000">1</text>
<text x="297.70" y="258.25" font-size="7.2" text-anchor="end" transform="rotate(-42 297.70 258.25)" fill="#000">3</text>
<text x="317.85" y="258.25" font-size="7.2" text-anchor="end" transform="rotate(-42 317.85 258.25)" fill="#000">10</text>
<text x="338.00" y="258.25" font-size="7.2" text-anchor="end" transform="rotate(-42 338.00 258.25)" fill="#000">Pred</text>
<line x1="243.50" y1="268.50" x2="313.75" y2="268.50" stroke="#000" stroke-width="1.6"/>
<line x1="243.50" y1="265.90" x2="243.50" y2="271.10" stroke="#000" stroke-width="1.6"/>
<line x1="313.75" y1="265.90" x2="313.75" y2="271.10" stroke="#000" stroke-width="1.6"/>
<text x="278.50" y="280.20" font-size="7.6" text-anchor="middle" fill="#000">BMS-986126 (mg/kg)</text>
<text x="184.00" y="207.50" font-size="7.9" text-anchor="middle" transform="rotate(-90 184.00 207.50)" fill="#000">IL-10 (pg/ml)</text>
<line x1="385.50" y1="170.75" x2="385.50" y2="251.10" stroke="#000" stroke-width="1.45"/>
<line x1="383.00" y1="250.50" x2="385.50" y2="250.50" stroke="#000" stroke-width="1.305"/>
<text x="381.50" y="253.06" font-size="7.1" text-anchor="end" fill="#000">0</text>
<line x1="383.00" y1="230.69" x2="385.50" y2="230.69" stroke="#000" stroke-width="1.305"/>
<text x="381.50" y="233.24" font-size="7.1" text-anchor="end" fill="#000">2000</text>
<line x1="383.00" y1="210.88" x2="385.50" y2="210.88" stroke="#000" stroke-width="1.305"/>
<text x="381.50" y="213.43" font-size="7.1" text-anchor="end" fill="#000">4000</text>
<line x1="383.00" y1="191.06" x2="385.50" y2="191.06" stroke="#000" stroke-width="1.305"/>
<text x="381.50" y="193.62" font-size="7.1" text-anchor="end" fill="#000">6000</text>
<line x1="383.00" y1="171.25" x2="385.50" y2="171.25" stroke="#000" stroke-width="1.305"/>
<text x="381.50" y="173.81" font-size="7.1" text-anchor="end" fill="#000">8000</text>
<line x1="394.40" y1="230.75" x2="394.40" y2="229.25" stroke="#000" stroke-width="1.6"/>
<line x1="390.76" y1="229.25" x2="398.04" y2="229.25" stroke="#000" stroke-width="1.6"/>
<rect x="388.20" y="231.55" width="12.40" height="18.95" fill="url(#pgrid)" stroke="#000" stroke-width="1.6"/>
<line x1="413.52" y1="199.50" x2="413.52" y2="188.75" stroke="#000" stroke-width="1.6"/>
<line x1="409.88" y1="188.75" x2="417.16" y2="188.75" stroke="#000" stroke-width="1.6"/>
<rect x="406.52" y="199.50" width="14.00" height="51.00" fill="#000"/>
<line x1="432.64" y1="202.00" x2="432.64" y2="197.00" stroke="#000" stroke-width="1.6"/>
<line x1="429.00" y1="197.00" x2="436.28" y2="197.00" stroke="#000" stroke-width="1.6"/>
<rect x="426.44" y="202.80" width="12.40" height="47.70" fill="#dedede" stroke="#000" stroke-width="1.6"/>
<line x1="451.76" y1="213.00" x2="451.76" y2="207.50" stroke="#000" stroke-width="1.6"/>
<line x1="448.12" y1="207.50" x2="455.40" y2="207.50" stroke="#000" stroke-width="1.6"/>
<rect x="445.56" y="213.80" width="12.40" height="36.70" fill="#6e6e6e" stroke="#000" stroke-width="1.6"/>
<line x1="470.88" y1="221.25" x2="470.88" y2="219.50" stroke="#000" stroke-width="1.6"/>
<line x1="467.24" y1="219.50" x2="474.52" y2="219.50" stroke="#000" stroke-width="1.6"/>
<rect x="464.68" y="222.05" width="12.40" height="28.45" fill="url(#pcheck)" stroke="#000" stroke-width="1.6"/>
<circle cx="470.88" cy="214.50" r="1.30" fill="#000"/>
<line x1="490.00" y1="237.50" x2="490.00" y2="236.25" stroke="#000" stroke-width="1.6"/>
<line x1="486.36" y1="236.25" x2="493.64" y2="236.25" stroke="#000" stroke-width="1.6"/>
<rect x="483.80" y="238.30" width="12.40" height="12.20" fill="url(#pfine)" stroke="#000" stroke-width="1.6"/>
<circle cx="485.80" cy="232.50" r="1.30" fill="#000"/>
<circle cx="490.00" cy="232.50" r="1.30" fill="#000"/>
<circle cx="494.20" cy="232.50" r="1.30" fill="#000"/>
<line x1="509.12" y1="241.25" x2="509.12" y2="238.75" stroke="#000" stroke-width="1.6"/>
<line x1="505.48" y1="238.75" x2="512.76" y2="238.75" stroke="#000" stroke-width="1.6"/>
<rect x="502.92" y="242.05" width="12.40" height="8.45" fill="#3c3c3c" stroke="#000" stroke-width="1.6"/>
<circle cx="504.92" cy="233.75" r="1.30" fill="#000"/>
<circle cx="509.12" cy="233.75" r="1.30" fill="#000"/>
<circle cx="513.32" cy="233.75" r="1.30" fill="#000"/>
<line x1="385.50" y1="250.50" x2="517.50" y2="250.50" stroke="#000" stroke-width="1.45"/>
<line x1="394.40" y1="250.50" x2="394.40" y2="252.70" stroke="#000" stroke-width="1.305"/>
<line x1="413.52" y1="250.50" x2="413.52" y2="252.70" stroke="#000" stroke-width="1.305"/>
<line x1="432.64" y1="250.50" x2="432.64" y2="252.70" stroke="#000" stroke-width="1.305"/>
<line x1="451.76" y1="250.50" x2="451.76" y2="252.70" stroke="#000" stroke-width="1.305"/>
<line x1="470.88" y1="250.50" x2="470.88" y2="252.70" stroke="#000" stroke-width="1.305"/>
<line x1="490.00" y1="250.50" x2="490.00" y2="252.70" stroke="#000" stroke-width="1.305"/>
<line x1="509.12" y1="250.50" x2="509.12" y2="252.70" stroke="#000" stroke-width="1.305"/>
<text x="396.90" y="260.00" font-size="7.2" text-anchor="end" transform="rotate(-42 396.90 260.00)" fill="#000">Pre-onset</text>
<text x="416.02" y="260.00" font-size="7.2" text-anchor="end" transform="rotate(-42 416.02 260.00)" fill="#000">Veh</text>
<text x="435.14" y="260.00" font-size="7.2" text-anchor="end" transform="rotate(-42 435.14 260.00)" fill="#000">0.3</text>
<text x="454.26" y="260.00" font-size="7.2" text-anchor="end" transform="rotate(-42 454.26 260.00)" fill="#000">1</text>
<text x="473.38" y="260.00" font-size="7.2" text-anchor="end" transform="rotate(-42 473.38 260.00)" fill="#000">3</text>
<text x="492.50" y="260.00" font-size="7.2" text-anchor="end" transform="rotate(-42 492.50 260.00)" fill="#000">10</text>
<text x="511.62" y="260.00" font-size="7.2" text-anchor="end" transform="rotate(-42 511.62 260.00)" fill="#000">Pred</text>
<line x1="427.00" y1="268.50" x2="490.50" y2="268.50" stroke="#000" stroke-width="1.6"/>
<line x1="427.00" y1="265.90" x2="427.00" y2="271.10" stroke="#000" stroke-width="1.6"/>
<line x1="490.50" y1="265.90" x2="490.50" y2="271.10" stroke="#000" stroke-width="1.6"/>
<text x="459.00" y="279.80" font-size="7.6" text-anchor="middle" fill="#000">BMS-986126 (mg/kg)</text>
<text x="361.50" y="210.60" font-size="7.67" text-anchor="middle" transform="rotate(-90 361.50 210.60)" fill="#000">IL-12p40 (pg/ml)</text>
<line x1="57.10" y1="307.30" x2="57.10" y2="386.80" stroke="#000" stroke-width="1.45"/>
<line x1="53.80" y1="386.20" x2="57.10" y2="386.20" stroke="#000" stroke-width="1.305"/>
<text x="53.50" y="388.25" font-size="5.7" text-anchor="end" font-weight="bold" fill="#000">0</text>
<line x1="53.80" y1="370.52" x2="57.10" y2="370.52" stroke="#000" stroke-width="1.305"/>
<text x="53.50" y="372.57" font-size="5.7" text-anchor="end" font-weight="bold" fill="#000">300</text>
<line x1="53.80" y1="354.84" x2="57.10" y2="354.84" stroke="#000" stroke-width="1.305"/>
<text x="53.50" y="356.89" font-size="5.7" text-anchor="end" font-weight="bold" fill="#000">600</text>
<line x1="53.80" y1="339.16" x2="57.10" y2="339.16" stroke="#000" stroke-width="1.305"/>
<text x="53.50" y="341.21" font-size="5.7" text-anchor="end" font-weight="bold" fill="#000">900</text>
<line x1="53.80" y1="323.48" x2="57.10" y2="323.48" stroke="#000" stroke-width="1.305"/>
<text x="53.50" y="325.53" font-size="5.7" text-anchor="end" font-weight="bold" fill="#000">1200</text>
<line x1="53.80" y1="307.80" x2="57.10" y2="307.80" stroke="#000" stroke-width="1.305"/>
<text x="53.50" y="309.85" font-size="5.7" text-anchor="end" font-weight="bold" fill="#000">1500</text>
<line x1="71.00" y1="328.00" x2="71.00" y2="325.75" stroke="#000" stroke-width="1.6"/>
<line x1="65.90" y1="325.75" x2="76.10" y2="325.75" stroke="#000" stroke-width="1.6"/>
<rect x="61.20" y="328.00" width="19.60" height="58.20" fill="#000"/>
<line x1="98.75" y1="350.50" x2="98.75" y2="347.00" stroke="#000" stroke-width="1.6"/>
<line x1="93.94" y1="347.00" x2="103.56" y2="347.00" stroke="#000" stroke-width="1.6"/>
<rect x="90.30" y="351.30" width="16.90" height="34.90" fill="#8a8a8a" stroke="#000" stroke-width="1.6"/>
<circle cx="95.15" cy="344.50" r="1.11" fill="#000"/>
<circle cx="98.75" cy="344.50" r="1.11" fill="#000"/>
<circle cx="102.35" cy="344.50" r="1.11" fill="#000"/>
<line x1="126.50" y1="361.25" x2="126.50" y2="358.75" stroke="#000" stroke-width="1.6"/>
<line x1="121.82" y1="358.75" x2="131.18" y2="358.75" stroke="#000" stroke-width="1.6"/>
<rect x="118.30" y="362.05" width="16.40" height="24.15" fill="url(#pvline)" stroke="#000" stroke-width="1.6"/>
<circle cx="122.90" cy="355.50" r="1.11" fill="#000"/>
<circle cx="126.50" cy="355.50" r="1.11" fill="#000"/>
<circle cx="130.10" cy="355.50" r="1.11" fill="#000"/>
<line x1="57.10" y1="386.20" x2="141.25" y2="386.20" stroke="#000" stroke-width="1.45"/>
<line x1="71.00" y1="386.20" x2="71.00" y2="388.00" stroke="#000" stroke-width="1.305"/>
<line x1="98.75" y1="386.20" x2="98.75" y2="388.00" stroke="#000" stroke-width="1.305"/>
<line x1="126.50" y1="386.20" x2="126.50" y2="388.00" stroke="#000" stroke-width="1.305"/>
<text x="71.40" y="394.30" font-size="6.8" text-anchor="middle" font-weight="bold" fill="#000">Veh</text>
<text x="98.75" y="394.30" font-size="6.8" text-anchor="middle" font-weight="bold" fill="#000">1</text>
<text x="126.50" y="394.30" font-size="6.8" text-anchor="middle" font-weight="bold" fill="#000">10</text>
<line x1="90.50" y1="396.90" x2="138.90" y2="396.90" stroke="#000" stroke-width="1.6"/>
<line x1="90.50" y1="394.30" x2="90.50" y2="399.50" stroke="#000" stroke-width="1.6"/>
<line x1="138.90" y1="394.30" x2="138.90" y2="399.50" stroke="#000" stroke-width="1.6"/>
<text x="95.00" y="408.60" font-size="6.5" text-anchor="start" font-weight="bold" fill="#000">BMS-986126</text>
<text x="95.50" y="415.60" font-size="6.5" text-anchor="start" font-weight="bold" fill="#000">(mg/kg)</text>
<text x="27.00" y="347.00" font-size="7.55" text-anchor="middle" font-weight="bold" transform="rotate(-90 27.00 347.00)" fill="#000">PDCA+IFN-α⁺ cells</text>
<text x="38.20" y="347.30" font-size="7.6" text-anchor="middle" font-weight="bold" transform="rotate(-90 38.20 347.30)" fill="#000">/25000 splenocytes</text>
<line x1="211.60" y1="310.80" x2="211.60" y2="388.85" stroke="#000" stroke-width="1.45"/>
<line x1="208.00" y1="388.25" x2="211.60" y2="388.25" stroke="#000" stroke-width="1.305"/>
<text x="207.60" y="390.27" font-size="5.6" text-anchor="end" font-weight="bold" fill="#000">0</text>
<line x1="208.00" y1="369.01" x2="211.60" y2="369.01" stroke="#000" stroke-width="1.305"/>
<text x="207.60" y="371.03" font-size="5.6" text-anchor="end" font-weight="bold" fill="#000">500</text>
<line x1="208.00" y1="349.77" x2="211.60" y2="349.77" stroke="#000" stroke-width="1.305"/>
<text x="207.60" y="351.79" font-size="5.6" text-anchor="end" font-weight="bold" fill="#000">1000</text>
<line x1="208.00" y1="330.54" x2="211.60" y2="330.54" stroke="#000" stroke-width="1.305"/>
<text x="207.60" y="332.55" font-size="5.6" text-anchor="end" font-weight="bold" fill="#000">1500</text>
<line x1="208.00" y1="311.30" x2="211.60" y2="311.30" stroke="#000" stroke-width="1.305"/>
<text x="207.60" y="313.32" font-size="5.6" text-anchor="end" font-weight="bold" fill="#000">2000</text>
<line x1="226.88" y1="330.00" x2="226.88" y2="326.75" stroke="#000" stroke-width="1.6"/>
<line x1="221.35" y1="326.75" x2="232.40" y2="326.75" stroke="#000" stroke-width="1.6"/>
<rect x="216.25" y="330.00" width="21.25" height="58.25" fill="#000"/>
<line x1="256.62" y1="347.50" x2="256.62" y2="344.25" stroke="#000" stroke-width="1.6"/>
<line x1="251.23" y1="344.25" x2="262.02" y2="344.25" stroke="#000" stroke-width="1.6"/>
<rect x="247.05" y="348.30" width="19.15" height="39.95" fill="#8a8a8a" stroke="#000" stroke-width="1.6"/>
<circle cx="254.82" cy="342.00" r="1.11" fill="#000"/>
<circle cx="258.43" cy="342.00" r="1.11" fill="#000"/>
<line x1="286.62" y1="372.00" x2="286.62" y2="369.50" stroke="#000" stroke-width="1.6"/>
<line x1="281.23" y1="369.50" x2="292.02" y2="369.50" stroke="#000" stroke-width="1.6"/>
<rect x="277.05" y="372.80" width="19.15" height="15.45" fill="url(#pfine2)" stroke="#000" stroke-width="1.6"/>
<circle cx="283.02" cy="366.25" r="1.11" fill="#000"/>
<circle cx="286.62" cy="366.25" r="1.11" fill="#000"/>
<circle cx="290.23" cy="366.25" r="1.11" fill="#000"/>
<line x1="211.60" y1="388.25" x2="301.25" y2="388.25" stroke="#000" stroke-width="1.45"/>
<line x1="226.88" y1="388.25" x2="226.88" y2="390.05" stroke="#000" stroke-width="1.305"/>
<line x1="256.62" y1="388.25" x2="256.62" y2="390.05" stroke="#000" stroke-width="1.305"/>
<line x1="286.62" y1="388.25" x2="286.62" y2="390.05" stroke="#000" stroke-width="1.305"/>
<text x="227.00" y="396.30" font-size="6.4" text-anchor="middle" font-weight="bold" fill="#000">VEHICLE</text>
<text x="256.80" y="396.30" font-size="6.4" text-anchor="middle" font-weight="bold" fill="#000">1</text>
<text x="286.20" y="396.30" font-size="6.4" text-anchor="middle" font-weight="bold" fill="#000">10</text>
<line x1="249.75" y1="399.75" x2="300.60" y2="399.75" stroke="#000" stroke-width="1.6"/>
<line x1="249.75" y1="397.15" x2="249.75" y2="402.35" stroke="#000" stroke-width="1.6"/>
<line x1="300.60" y1="397.15" x2="300.60" y2="402.35" stroke="#000" stroke-width="1.6"/>
<text x="258.00" y="408.70" font-size="6.2" text-anchor="start" font-weight="bold" fill="#000">BMS-986126</text>
<text x="258.60" y="415.90" font-size="6.4" text-anchor="start" font-weight="bold" fill="#000">(mg/kg)</text>
<text x="183.80" y="349.60" font-size="7.6" text-anchor="middle" font-weight="bold" transform="rotate(-90 183.80 349.60)" fill="#000">CD11b+IL6+ cells</text>
<text x="194.50" y="349.60" font-size="7.0" text-anchor="middle" font-weight="bold" transform="rotate(-90 194.50 349.60)" fill="#000">/25000 splenocytes</text>
<line x1="370.30" y1="295.00" x2="370.30" y2="393.10" stroke="#000" stroke-width="1.45"/>
<line x1="367.80" y1="392.50" x2="370.30" y2="392.50" stroke="#000" stroke-width="1.305"/>
<text x="367.50" y="394.66" font-size="6.0" text-anchor="end" fill="#000">0</text>
<line x1="367.80" y1="368.25" x2="370.30" y2="368.25" stroke="#000" stroke-width="1.305"/>
<text x="367.50" y="370.41" font-size="6.0" text-anchor="end" fill="#000">400</text>
<line x1="367.80" y1="344.00" x2="370.30" y2="344.00" stroke="#000" stroke-width="1.305"/>
<text x="367.50" y="346.16" font-size="6.0" text-anchor="end" fill="#000">800</text>
<line x1="367.80" y1="319.75" x2="370.30" y2="319.75" stroke="#000" stroke-width="1.305"/>
<text x="367.50" y="321.91" font-size="6.0" text-anchor="end" fill="#000">1200</text>
<line x1="367.80" y1="295.50" x2="370.30" y2="295.50" stroke="#000" stroke-width="1.305"/>
<text x="367.50" y="297.66" font-size="6.0" text-anchor="end" fill="#000">1600</text>
<line x1="382.25" y1="321.25" x2="382.25" y2="313.00" stroke="#000" stroke-width="1.6"/>
<line x1="378.35" y1="313.00" x2="386.15" y2="313.00" stroke="#000" stroke-width="1.6"/>
<rect x="374.75" y="321.25" width="15.00" height="71.25" fill="#000"/>
<line x1="404.50" y1="361.25" x2="404.50" y2="354.50" stroke="#000" stroke-width="1.6"/>
<line x1="400.60" y1="354.50" x2="408.40" y2="354.50" stroke="#000" stroke-width="1.6"/>
<rect x="397.80" y="362.05" width="13.40" height="30.45" fill="#3c3c3c" stroke="#000" stroke-width="1.6"/>
<circle cx="400.90" cy="351.25" r="1.11" fill="#000"/>
<circle cx="404.50" cy="351.25" r="1.11" fill="#000"/>
<circle cx="408.10" cy="351.25" r="1.11" fill="#000"/>
<line x1="427.00" y1="341.25" x2="427.00" y2="335.50" stroke="#000" stroke-width="1.6"/>
<line x1="423.10" y1="335.50" x2="430.90" y2="335.50" stroke="#000" stroke-width="1.6"/>
<rect x="420.30" y="342.05" width="13.40" height="50.45" fill="#dedede" stroke="#000" stroke-width="1.6"/>
<line x1="449.50" y1="349.25" x2="449.50" y2="346.25" stroke="#000" stroke-width="1.6"/>
<line x1="445.60" y1="346.25" x2="453.40" y2="346.25" stroke="#000" stroke-width="1.6"/>
<rect x="442.80" y="350.05" width="13.40" height="42.45" fill="#6e6e6e" stroke="#000" stroke-width="1.6"/>
<circle cx="447.70" cy="342.50" r="1.11" fill="#000"/>
<circle cx="451.30" cy="342.50" r="1.11" fill="#000"/>
<line x1="472.00" y1="352.50" x2="472.00" y2="348.00" stroke="#000" stroke-width="1.6"/>
<line x1="468.10" y1="348.00" x2="475.90" y2="348.00" stroke="#000" stroke-width="1.6"/>
<rect x="465.30" y="353.30" width="13.40" height="39.20" fill="url(#pcheck)" stroke="#000" stroke-width="1.6"/>
<circle cx="470.20" cy="344.50" r="1.11" fill="#000"/>
<circle cx="473.80" cy="344.50" r="1.11" fill="#000"/>
<line x1="494.50" y1="358.00" x2="494.50" y2="354.25" stroke="#000" stroke-width="1.6"/>
<line x1="490.60" y1="354.25" x2="498.40" y2="354.25" stroke="#000" stroke-width="1.6"/>
<rect x="487.80" y="358.80" width="13.40" height="33.70" fill="url(#pfine)" stroke="#000" stroke-width="1.6"/>
<circle cx="490.90" cy="351.25" r="1.11" fill="#000"/>
<circle cx="494.50" cy="351.25" r="1.11" fill="#000"/>
<circle cx="498.10" cy="351.25" r="1.11" fill="#000"/>
<line x1="370.30" y1="392.50" x2="506.25" y2="392.50" stroke="#000" stroke-width="1.45"/>
<line x1="382.25" y1="392.50" x2="382.25" y2="394.30" stroke="#000" stroke-width="1.305"/>
<line x1="404.50" y1="392.50" x2="404.50" y2="394.30" stroke="#000" stroke-width="1.305"/>
<line x1="427.00" y1="392.50" x2="427.00" y2="394.30" stroke="#000" stroke-width="1.305"/>
<line x1="449.50" y1="392.50" x2="449.50" y2="394.30" stroke="#000" stroke-width="1.305"/>
<line x1="472.00" y1="392.50" x2="472.00" y2="394.30" stroke="#000" stroke-width="1.305"/>
<line x1="494.50" y1="392.50" x2="494.50" y2="394.30" stroke="#000" stroke-width="1.305"/>
<text x="381.80" y="401.00" font-size="6.6" text-anchor="middle" fill="#000">Vehicle</text>
<text x="404.70" y="401.00" font-size="6.6" text-anchor="middle" fill="#000">10</text>
<text x="427.00" y="401.00" font-size="6.6" text-anchor="middle" fill="#000">0.3</text>
<text x="449.50" y="401.00" font-size="6.6" text-anchor="middle" fill="#000">1</text>
<text x="472.00" y="401.00" font-size="6.6" text-anchor="middle" fill="#000">3</text>
<text x="495.00" y="401.00" font-size="6.6" text-anchor="middle" fill="#000">10</text>
<text x="405.00" y="406.60" font-size="6.6" text-anchor="middle" fill="#000">Pred</text>
<text x="405.00" y="412.80" font-size="6.4" text-anchor="middle" fill="#000">(mg/kg)</text>
<line x1="418.75" y1="405.60" x2="502.50" y2="405.60" stroke="#000" stroke-width="1.6"/>
<line x1="418.75" y1="403.00" x2="418.75" y2="408.20" stroke="#000" stroke-width="1.6"/>
<line x1="502.50" y1="403.00" x2="502.50" y2="408.20" stroke="#000" stroke-width="1.6"/>
<text x="459.80" y="416.00" font-size="7.9" text-anchor="middle" fill="#000">BMS-986126 (mg/kg)</text>
<text x="350.00" y="343.75" font-size="8.25" text-anchor="middle" transform="rotate(-90 350.00 343.75)" fill="#000">Fluorescence Intensity</text>
<line x1="37.50" y1="451.25" x2="37.50" y2="543.85" stroke="#000" stroke-width="1.45"/>
<line x1="34.70" y1="543.25" x2="37.50" y2="543.25" stroke="#000" stroke-width="1.305"/>
<text x="34.50" y="545.84" font-size="7.2" text-anchor="end" fill="#000">0</text>
<line x1="34.70" y1="520.38" x2="37.50" y2="520.38" stroke="#000" stroke-width="1.305"/>
<text x="34.50" y="522.97" font-size="7.2" text-anchor="end" fill="#000">5</text>
<line x1="34.70" y1="497.50" x2="37.50" y2="497.50" stroke="#000" stroke-width="1.305"/>
<text x="34.50" y="500.09" font-size="7.2" text-anchor="end" fill="#000">10</text>
<line x1="34.70" y1="474.62" x2="37.50" y2="474.62" stroke="#000" stroke-width="1.305"/>
<text x="34.50" y="477.22" font-size="7.2" text-anchor="end" fill="#000">15</text>
<line x1="34.70" y1="451.75" x2="37.50" y2="451.75" stroke="#000" stroke-width="1.305"/>
<text x="34.50" y="454.34" font-size="7.2" text-anchor="end" fill="#000">20</text>
<line x1="50.40" y1="479.25" x2="50.40" y2="470.75" stroke="#000" stroke-width="1.8"/>
<line x1="45.15" y1="470.75" x2="55.65" y2="470.75" stroke="#000" stroke-width="1.8"/>
<rect x="41.60" y="479.25" width="17.60" height="64.00" fill="#000"/>
<line x1="76.25" y1="486.25" x2="76.25" y2="481.75" stroke="#000" stroke-width="1.8"/>
<line x1="71.00" y1="481.75" x2="81.50" y2="481.75" stroke="#000" stroke-width="1.8"/>
<rect x="68.35" y="487.15" width="15.80" height="56.10" fill="#dedede" stroke="#000" stroke-width="1.8"/>
<line x1="100.90" y1="497.75" x2="100.90" y2="494.50" stroke="#000" stroke-width="1.8"/>
<line x1="95.65" y1="494.50" x2="106.15" y2="494.50" stroke="#000" stroke-width="1.8"/>
<rect x="93.00" y="498.65" width="15.80" height="44.60" fill="#6e6e6e" stroke="#000" stroke-width="1.8"/>
<line x1="126.00" y1="499.50" x2="126.00" y2="494.50" stroke="#000" stroke-width="1.8"/>
<line x1="120.75" y1="494.50" x2="131.25" y2="494.50" stroke="#000" stroke-width="1.8"/>
<rect x="118.10" y="500.40" width="15.80" height="42.85" fill="url(#pcheckJ)" stroke="#000" stroke-width="1.8"/>
<circle cx="126.00" cy="490.50" r="1.49" fill="#000"/>
<line x1="151.00" y1="513.75" x2="151.00" y2="511.25" stroke="#000" stroke-width="1.8"/>
<line x1="145.75" y1="511.25" x2="156.25" y2="511.25" stroke="#000" stroke-width="1.8"/>
<rect x="143.10" y="514.65" width="15.80" height="28.60" fill="url(#pfine)" stroke="#000" stroke-width="1.8"/>
<circle cx="146.20" cy="507.50" r="1.49" fill="#000"/>
<circle cx="151.00" cy="507.50" r="1.49" fill="#000"/>
<circle cx="155.80" cy="507.50" r="1.49" fill="#000"/>
<line x1="176.00" y1="515.00" x2="176.00" y2="509.25" stroke="#000" stroke-width="1.8"/>
<line x1="170.75" y1="509.25" x2="181.25" y2="509.25" stroke="#000" stroke-width="1.8"/>
<rect x="168.10" y="515.90" width="15.80" height="27.35" fill="#3c3c3c" stroke="#000" stroke-width="1.8"/>
<circle cx="171.20" cy="505.50" r="1.49" fill="#000"/>
<circle cx="176.00" cy="505.50" r="1.49" fill="#000"/>
<circle cx="180.80" cy="505.50" r="1.49" fill="#000"/>
<line x1="37.50" y1="543.25" x2="190.00" y2="543.25" stroke="#000" stroke-width="1.5"/>
<line x1="50.40" y1="543.25" x2="50.40" y2="545.45" stroke="#000" stroke-width="1.35"/>
<line x1="76.25" y1="543.25" x2="76.25" y2="545.45" stroke="#000" stroke-width="1.35"/>
<line x1="100.90" y1="543.25" x2="100.90" y2="545.45" stroke="#000" stroke-width="1.35"/>
<line x1="126.00" y1="543.25" x2="126.00" y2="545.45" stroke="#000" stroke-width="1.35"/>
<line x1="151.00" y1="543.25" x2="151.00" y2="545.45" stroke="#000" stroke-width="1.35"/>
<line x1="176.00" y1="543.25" x2="176.00" y2="545.45" stroke="#000" stroke-width="1.35"/>
<text x="50.00" y="553.40" font-size="7.8" text-anchor="middle" fill="#000">Veh</text>
<text x="75.50" y="553.40" font-size="7.8" text-anchor="middle" fill="#000">0.3</text>
<text x="101.00" y="553.40" font-size="7.8" text-anchor="middle" fill="#000">1</text>
<text x="126.00" y="553.40" font-size="7.8" text-anchor="middle" fill="#000">3</text>
<text x="151.25" y="553.40" font-size="7.8" text-anchor="middle" fill="#000">10</text>
<text x="177.00" y="553.40" font-size="7.8" text-anchor="middle" fill="#000">Pred</text>
<line x1="68.70" y1="559.20" x2="159.50" y2="559.20" stroke="#000" stroke-width="1.4"/>
<line x1="68.70" y1="556.20" x2="68.70" y2="562.20" stroke="#000" stroke-width="1.4"/>
<line x1="159.50" y1="556.20" x2="159.50" y2="562.20" stroke="#000" stroke-width="1.4"/>
<text x="115.00" y="570.60" font-size="9.6" text-anchor="middle" fill="#000">BMS-986126 (mg/kg)</text>
<text x="20.00" y="497.00" font-size="10.2" text-anchor="middle" transform="rotate(-90 20.00 497.00)" fill="#000">Total Histology score</text>
<svg x="215.80" y="453.40" width="80.70" height="67.80" viewBox="0 0 80.70 67.80" overflow="hidden">
<rect width="80.70" height="67.80" fill="#884c91"/>
<g filter="url(#hblur)">
<ellipse cx="6" cy="30" rx="5" ry="26" fill="#b689b8"/>
<ellipse cx="18" cy="10" rx="12" ry="9" fill="#9b64a1"/>
<ellipse cx="68" cy="12" rx="12" ry="10" fill="#a36ea7"/>
<ellipse cx="37" cy="31" rx="16" ry="14" fill="#602372"/>
<ellipse cx="60" cy="50" rx="19" ry="15" fill="#682b79"/>
<ellipse cx="12" cy="55" rx="10" ry="12" fill="#91599a"/>
</g>
<rect width="80.70" height="67.80" filter="url(#texm1)"/>
<rect width="80.70" height="67.80" filter="url(#texv1)"/>
<rect width="80.70" height="67.80" filter="url(#texd1)"/>
<ellipse cx="29.3" cy="56.0" rx="8.2" ry="10" fill="#ead8e8" filter="url(#hblur2)" stroke="#7a4a8c" stroke-width="1.2"/>
<text x="36.5" y="30.7" font-size="11.5" text-anchor="middle" font-weight="bold" style="stroke-width:0.7px">*</text>
<text x="57.5" y="55.2" font-size="11.5" text-anchor="middle" font-weight="bold" style="stroke-width:0.7px">*</text>
</svg>
<svg x="314.30" y="453.40" width="80.30" height="67.80" viewBox="0 0 80.30 67.80" overflow="hidden">
<rect width="80.30" height="67.80" fill="#a57aa9"/>
<g filter="url(#hblur)">
<ellipse cx="10" cy="35" rx="12" ry="30" fill="#b38db4"/>
<ellipse cx="48" cy="53" rx="17" ry="13" fill="#865791"/>
<ellipse cx="65" cy="20" rx="14" ry="12" fill="#9e72a5"/>
</g>
<rect width="80.30" height="67.80" filter="url(#texm2)"/>
<rect width="80.30" height="67.80" filter="url(#texv2)"/>
<rect width="80.30" height="67.80" filter="url(#texd2)"/>
<path d="M40 5 Q52 6 55 16 Q50 10 42 8 Z" fill="#f0e6f0" filter="url(#hblur2)"/>
<ellipse cx="49" cy="39" rx="3.5" ry="2" fill="#eadcea" filter="url(#hblur2)"/>
</svg>
<svg x="415.70" y="453.40" width="80.10" height="67.80" viewBox="0 0 80.10 67.80" overflow="hidden">
<rect width="80.10" height="67.80" fill="#9b6ca0"/>
<g filter="url(#hblur)">
<ellipse cx="68" cy="44" rx="14" ry="22" fill="#6d3c84"/>
<ellipse cx="70" cy="10" rx="10" ry="8" fill="#a97fac"/>
</g>
<g filter="url(#hblur3)">
<path d="M27 22 L36 17 L47 14 L54 20 L56 30 L57 42 L60 56 L61 66 L54 66 L48 56 L40 46 L33 36 L28 30 Z" fill="#d1b5c6"/>
</g>
<ellipse cx="26" cy="16" rx="9" ry="8" fill="#7f4d8e" stroke="#f4eaf4" stroke-width="1.3" filter="url(#hblur2)"/>
<ellipse cx="23" cy="43" rx="10" ry="12" fill="#794689" stroke="#f4eaf4" stroke-width="1.3" filter="url(#hblur2)"/>
<rect width="80.10" height="67.80" filter="url(#texm3)"/>
<rect width="80.10" height="67.80" filter="url(#texv3)"/>
<rect width="80.10" height="67.80" filter="url(#texd3)"/>
</svg>
<svg x="212.70" y="537.70" width="80.80" height="68.10" viewBox="0 0 80.80 68.10" overflow="hidden">
<rect width="80.80" height="68.10" fill="#9c72a6"/>
<g filter="url(#hblur)">
<ellipse cx="55" cy="12" rx="12" ry="10" fill="#b492b9"/>
<ellipse cx="15" cy="25" rx="14" ry="16" fill="#a27cab"/>
</g>
<ellipse cx="30" cy="50.5" rx="13" ry="11" fill="#77488a" stroke="#f4eaf4" stroke-width="1.3" filter="url(#hblur2)"/>
<ellipse cx="61" cy="36" rx="10" ry="12" fill="#7c4d8e" stroke="#f4eaf4" stroke-width="1.3" filter="url(#hblur2)"/>
<rect width="80.80" height="68.10" filter="url(#texm4)"/>
<rect width="80.80" height="68.10" filter="url(#texv4)"/>
<rect width="80.80" height="68.10" filter="url(#texd4)"/>
<path d="M49 68 Q48 56 58 52 Q68 50 73 56 L73 68 Z" fill="#eee2ec" filter="url(#hblur2)"/>
</svg>
<svg x="314.30" y="537.70" width="80.30" height="68.10" viewBox="0 0 80.30 68.10" overflow="hidden">
<rect width="80.30" height="68.10" fill="#cfb8cf"/>
<g filter="url(#hblur)">
<ellipse cx="15" cy="50" rx="14" ry="16" fill="#d5bfd4"/>
</g>
<ellipse cx="41.7" cy="19.3" rx="10.5" ry="12.8" fill="#b293bb" stroke="#f4eaf4" stroke-width="1.3" filter="url(#hblur2)"/>
<ellipse cx="47.7" cy="47.8" rx="8.4" ry="11.3" fill="#b091ba" stroke="#f4eaf4" stroke-width="1.3" filter="url(#hblur2)"/>
<rect width="80.30" height="68.10" filter="url(#texm5)"/>
<rect width="80.30" height="68.10" filter="url(#texv5)"/>
<rect width="80.30" height="68.10" filter="url(#texd5)"/>
</svg>
<svg x="415.70" y="537.70" width="80.10" height="68.10" viewBox="0 0 80.10 68.10" overflow="hidden">
<rect width="80.10" height="68.10" fill="#d1bcd0"/>
<g filter="url(#hblur)">
<ellipse cx="50" cy="15" rx="25" ry="10" fill="#dbc9d9"/>
</g>
<ellipse cx="24.8" cy="54.7" rx="11" ry="10" fill="#a785b2" stroke="#f4eaf4" stroke-width="1.3" filter="url(#hblur2)"/>
<ellipse cx="59.5" cy="48.2" rx="10" ry="11" fill="#a986b3" stroke="#f4eaf4" stroke-width="1.3" filter="url(#hblur2)"/>
<rect width="80.10" height="68.10" filter="url(#texm6)"/>
<rect width="80.10" height="68.10" filter="url(#texv6)"/>
<rect width="80.10" height="68.10" filter="url(#texd6)"/>
<ellipse cx="44" cy="63" rx="7" ry="7" fill="#f3ebf3" filter="url(#hblur2)"/>
</svg>
<text x="245.90" y="531.20" font-size="7.2" text-anchor="middle" fill="#000" style="stroke-width:0.32px">Vehicle control</text>
<text x="356.00" y="531.20" font-size="7.2" text-anchor="middle" fill="#000" style="stroke-width:0.32px">BMS-986126; 0.3 mg/kg</text>
<text x="453.00" y="531.20" font-size="7.2" text-anchor="middle" fill="#000" style="stroke-width:0.32px">BMS-986126; 1 mg/kg</text>
<text x="246.50" y="616.50" font-size="7.2" text-anchor="middle" fill="#000" style="stroke-width:0.32px">BMS-986126; 3 mg/kg</text>
<text x="351.50" y="616.50" font-size="7.2" text-anchor="middle" fill="#000" style="stroke-width:0.32px">BMS-986126; 10 mg/kg</text>
<text x="454.80" y="616.50" font-size="7.2" text-anchor="middle" fill="#000" style="stroke-width:0.32px">Pred; 10 mg/kg</text>
<text x="0.20" y="9.80" font-size="13.8" style="stroke-width:0.3px">A</text>
<text x="174.20" y="9.60" font-size="13.8" style="stroke-width:0.3px">B</text>
<text x="345.90" y="9.70" font-size="13.8" style="stroke-width:0.3px">C</text>
<text x="0.15" y="159.40" font-size="13.8" style="stroke-width:0.3px">D</text>
<text x="174.00" y="161.90" font-size="13.8" style="stroke-width:0.3px">E</text>
<text x="347.10" y="162.10" font-size="13.8" style="stroke-width:0.3px">F</text>
<text x="0.20" y="305.70" font-size="13.8" style="stroke-width:0.3px">G</text>
<text x="174.20" y="306.30" font-size="13.8" style="stroke-width:0.3px">H</text>
<text x="346.80" y="289.20" font-size="13.8" style="stroke-width:0.3px">I</text>
<text x="0.00" y="441.80" font-size="13.8" style="stroke-width:0.3px">J</text>
<text x="205.90" y="441.70" font-size="13.8" style="stroke-width:0.3px">K</text>
</svg>
</body></html>
